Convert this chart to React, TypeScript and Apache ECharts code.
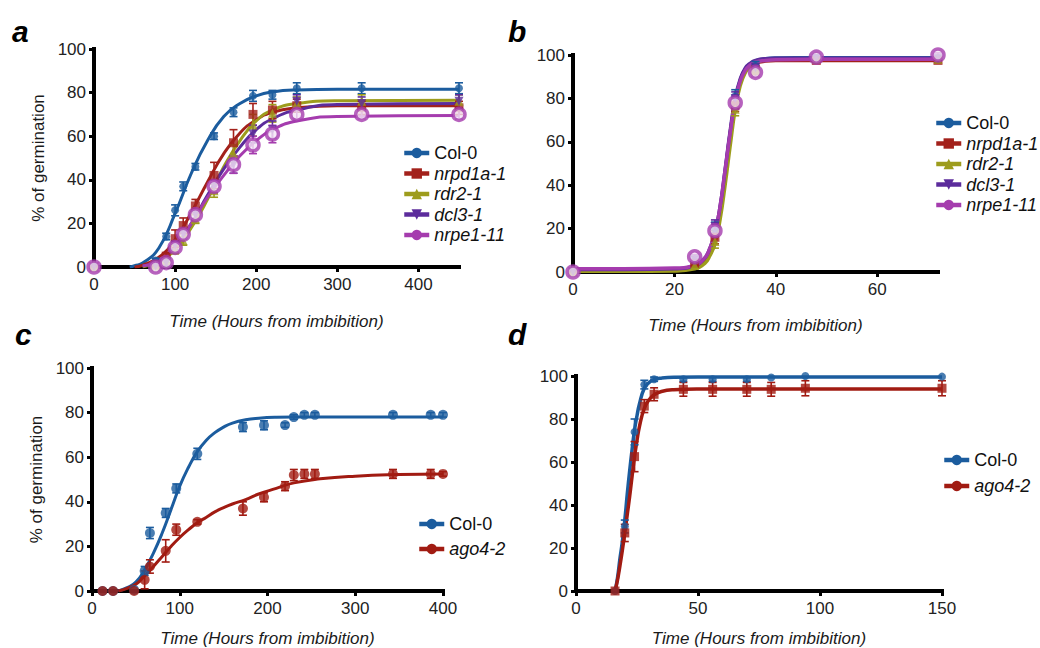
import React, { useEffect, useRef } from 'react';
import * as echarts from 'echarts';

const FONT = "'Liberation Sans', Arial, Helvetica, sans-serif";

const BLUE = '#1b5c9e';
const RED = '#a3211b';
const OLIVE = '#9d9c1c';
const PURPLE = '#5c2c9c';
const MAGENTA = '#a53cae';
const DARKRED = '#a11b12';

// ---------- Panel a: dormant seeds ----------
const aTimes = [0, 76, 89, 100, 110, 125, 148, 172, 196, 220, 250, 330, 450];
const aCol0 = [0, 3, 14, 26, 37, 46, 60, 71, 78.5, 79, 82, 82, 82];
const aCol0Err = [0, 1, 1.5, 2.5, 2, 1.5, 1.5, 2, 2.5, 2, 2.5, 2.5, 2.5];
const aNrpd1a = [0, 1, 5, 13, 19, 28, 42, 57, 70, 72, 74, 73, 73];
const aNrpd1aErr = [0, 0.5, 1.5, 4, 3.5, 3, 6, 6, 5, 4, 3, 3, 3];
const aRdr2 = [0, 0.5, 3, 8, 12, 22, 35, 52, 65, 70.5, 75, 76, 76];
const aRdr2Err = [0, 0.5, 1, 2, 2, 2, 3, 4, 5, 4, 3, 3, 3];
const aDcl3 = [0, 0.5, 2, 10, 15, 24, 37, 47, 61, 63, 76, 75, 76];
const aDcl3Err = [0, 0.5, 1, 2, 2, 2, 3, 4, 4, 4, 3, 3, 3];
const aNrpe1 = [0, 0, 2, 9, 15, 24, 37, 47, 56, 61, 70, 70, 70];
const aNrpe1Err = [0, 0, 1, 2, 2, 2, 3, 4, 4, 4, 2, 2, 2];

const aFitTimes = [44, 50, 60, 80, 100, 120, 140, 160, 180, 200, 220, 250, 300, 450];
const aFitCol0 = [0, 0.6, 1.8, 8.7, 24.6, 43, 58, 69, 75, 78.5, 80.3, 81.2, 81.5, 81.5];
const aFitNrpd1a = [null, 0, 0.8, 4.5, 12.5, 25, 39, 52, 61.5, 67.5, 71, 73, 74, 74];
const aFitRdr2 = [null, null, 0, 2.5, 8, 18, 31, 46, 58, 67, 72, 75, 76.3, 76.5];
const aFitDcl3 = [null, null, 0.5, 3, 9.5, 20, 33, 45, 55, 63, 68, 72, 74.5, 75];
const aFitNrpe1 = [null, null, 0.5, 3, 9.5, 20, 32, 42, 51, 58, 63, 67, 69, 69.5];

// ---------- Panel b: after-ripened seeds ----------
const bTimes = [0, 24, 28, 32, 36, 48, 72];
const bCol0 = [0, 5, 20, 81, 95, 98.5, 98.5];
const bNrpd1a = [0, 4, 16, 77, 93, 97.5, 97.5];
const bRdr2 = [0, 3, 14, 75, 93, 98, 98];
const bDcl3 = [0, 6, 21, 80, 94, 98.5, 98.5];
const bNrpe1 = [0, 7, 19, 78, 92, 99, 100];
const bErr = [0, 1, 3, 3, 2, 1, 1];

const bFitTimes = [0, 10, 20, 24, 26, 27, 28, 29, 30, 31, 32, 33, 34, 35, 36, 38, 40, 48, 72];
const bFitCol0 = [1, 1, 1.3, 2.5, 6, 10, 17, 29, 46, 64, 79, 88.5, 93.5, 96, 97.3, 98.3, 98.6, 98.7, 98.7];
const bFitNrpd1a = [0.8, 0.8, 1, 2.2, 5.5, 9.5, 16, 28, 45, 63, 78, 87.5, 92.5, 95, 96.3, 97.2, 97.5, 97.5, 97.5];
const bFitRdr2 = [0.3, 0.3, 0.5, 1.5, 4, 7.5, 13, 24, 40, 58, 75, 86, 92, 95, 96.8, 97.8, 98, 98, 98];
const bFitDcl3 = [1.2, 1.2, 1.5, 3, 6.5, 11, 18, 30, 47, 65, 80, 89, 94, 96.3, 97.5, 98.3, 98.5, 98.5, 98.5];
const bFitNrpe1 = [1.5, 1.5, 1.8, 3.2, 6.5, 11, 18, 30, 47, 64, 79, 88, 93, 95.5, 96.8, 97.5, 97.8, 98, 98];

// ---------- Panel c: dormant seeds, ago4-2 ----------
const cTimes = [12, 24, 48, 60, 66, 84, 96, 120, 172, 196, 220, 230, 242, 254, 343, 386, 400];
const cCol0 = [0, 0, 0.5, 9, 26, 35, 46, 61.5, 73.5, 74.3, 74.4, 78, 79, 79, 79, 79, 79];
const cCol0Err = [0, 0, 0.5, 2, 2.5, 2, 2, 2.5, 2, 2, 1, 1, 1, 1, 1, 1, 1];
const cAgo4 = [0, 0, 0, 5, 11, 18, 27.5, 31, 37, 42, 47, 52, 52.5, 52.5, 52.5, 52.5, 52.5];
const cAgo4Err = [0, 0, 0, 4, 3, 5, 2.5, 1, 3, 2, 2, 2.5, 2, 2, 2, 2, 1];

const cFitTimes = [30, 40, 50, 60, 70, 80, 90, 100, 110, 120, 130, 140, 150, 160, 175, 190, 210, 230, 260, 300, 350, 400];
const cFitCol0 = [0, 1.5, 4, 9.5, 17, 26, 36.5, 47, 55.5, 62.5, 67.5, 71, 73.5, 75.3, 76.8, 77.5, 77.9, 78, 78, 78, 78, 78];
const cFitAgo4 = [0, 1.2, 3, 6.8, 11, 15.5, 20, 24, 27.5, 30.6, 33, 35.5, 37.4, 39, 41, 43.5, 46, 48.5, 50.3, 51.5, 52.2, 52.5];

// ---------- Panel d: after-ripened seeds, ago4-2 ----------
const dTimes = [16, 20, 24, 28, 32, 44, 56, 70, 80, 94, 150];
const dCol0 = [0, 30, 74, 96, 98.5, 98.5, 98.5, 98.5, 99.3, 100, 99.7];
const dCol0Err = [0, 3, 6, 2, 1, 1, 1, 1, 0.5, 0.5, 0.5];
const dAgo4 = [0, 27, 62.5, 86, 91.5, 93.8, 93.8, 93.8, 93.8, 94.3, 94.3];
const dAgo4Err = [0, 4, 7, 3, 3, 3.2, 3.2, 3.2, 3.2, 3.5, 3.5];

const dFitTimes = [16, 17, 18, 19, 20, 21, 22, 23, 24, 25, 26, 28, 30, 32, 35, 40, 50, 150];
const dFitCol0 = [0, 6, 15, 23, 33, 45, 56, 66, 75, 81.5, 87, 94.3, 97, 98.3, 99, 99.4, 99.5, 99.5];
const dFitAgo4 = [0, 5, 11.7, 19, 27, 35.5, 44, 53.5, 62.6, 70, 76.5, 85, 89, 91.3, 92.8, 93.6, 93.9, 94];

// ---------- Axis ticks ----------
const aXTicks = [0, 100, 200, 300, 400];
const bXTicks = [0, 20, 40, 60];
const cXTicks = [0, 100, 200, 300, 400];
const dXTicks = [0, 50, 100, 150];

type Geno = {
  name: string;
  color: string;
  symbol: string;
  size: number;
  rotate?: number;
  hollow?: boolean;
  times: number[];
  values: number[];
  errors?: number[];
  fitTimes: number[];
  fit: (number | null)[];
  lineWidth: number;
};

function panelSeries(idx: number, genos: Geno[]) {
  const out: any[] = [];
  genos.forEach((g) => {
    const fitData = g.fitTimes
      .map((t, i) => [t, g.fit[i]])
      .filter((p) => p[1] !== null);
    out.push({
      type: 'line',
      name: g.name,
      xAxisIndex: idx,
      yAxisIndex: idx,
      data: fitData,
      smooth: 0.5,
      symbol: g.symbol,
      symbolRotate: g.rotate || 0,
      showSymbol: false,
      silent: true,
      lineStyle: { color: g.color, width: g.lineWidth },
      itemStyle: { color: g.color },
      z: 2,
    });
    if (g.errors) {
      const errData = g.times
        .map((t, i) => [t, g.values[i] - g.errors![i], g.values[i] + g.errors![i], g.errors![i]])
        .filter((p) => p[3] > 0.6);
      const color = g.color;
      out.push({
        type: 'custom',
        name: g.name + ' SEM',
        xAxisIndex: idx,
        yAxisIndex: idx,
        data: errData,
        encode: { x: 0, y: [1, 2] },
        silent: true,
        z: 3,
        renderItem: (_p: any, api: any) => {
          const lo = api.coord([api.value(0), api.value(1)]);
          const hi = api.coord([api.value(0), api.value(2)]);
          const w = 4;
          const st = { stroke: color, lineWidth: 1.6 };
          return {
            type: 'group',
            children: [
              { type: 'line', shape: { x1: lo[0], y1: lo[1], x2: hi[0], y2: hi[1] }, style: st },
              { type: 'line', shape: { x1: hi[0] - w, y1: hi[1], x2: hi[0] + w, y2: hi[1] }, style: st },
              { type: 'line', shape: { x1: lo[0] - w, y1: lo[1], x2: lo[0] + w, y2: lo[1] }, style: st },
            ],
          };
        },
      });
    }
    out.push({
      type: 'scatter',
      name: g.name + ' mean',
      xAxisIndex: idx,
      yAxisIndex: idx,
      data: g.times.map((t, i) => [t, g.values[i]]),
      symbol: g.symbol,
      symbolSize: g.size,
      symbolRotate: g.rotate || 0,
      silent: true,
      itemStyle: g.hollow
        ? { color: '#f4e6f6', borderColor: g.color, borderWidth: 3.5 }
        : { color: g.color },
      z: 4,
    });
  });
  return out;
}

function xAxis(idx: number, max: number, ticks: number[], nameGap: number) {
  return {
    type: 'value',
    gridIndex: idx,
    min: 0,
    max,
    name: 'Time (Hours from imbibition)',
    nameLocation: 'middle',
    nameGap,
    nameTextStyle: { fontFamily: FONT, fontSize: 17, fontStyle: 'italic', color: '#1a1a1a' },
    axisLine: { show: true, onZero: false, lineStyle: { color: '#000', width: 4, cap: 'square' } },
    axisTick: { show: true, length: 5, lineStyle: { color: '#000', width: 3 }, customValues: ticks },
    axisLabel: { fontFamily: FONT, fontSize: 17, color: '#222', margin: 9, customValues: ticks },
    splitLine: { show: false },
  };
}

function yAxis(idx: number, withName: boolean) {
  return {
    type: 'value',
    gridIndex: idx,
    min: 0,
    max: 100,
    interval: 20,
    name: withName ? '% of germination' : '',
    nameLocation: 'middle',
    nameGap: 47,
    nameTextStyle: { fontFamily: FONT, fontSize: 17, color: '#1a1a1a' },
    axisLine: { show: true, onZero: false, lineStyle: { color: '#000', width: 4, cap: 'square' } },
    axisTick: { show: true, length: 5, lineStyle: { color: '#000', width: 3 } },
    axisLabel: { fontFamily: FONT, fontSize: 17, color: '#222', margin: 8 },
    splitLine: { show: false },
  };
}

function legend(names: string[], left: number, top: number, gap: number) {
  return {
    data: names,
    orient: 'vertical',
    left,
    top,
    padding: 0,
    itemWidth: 25,
    itemHeight: 13,
    itemGap: gap,
    selectedMode: false,
    lineStyle: { width: 4.5 },
    formatter: (n: string) => (n === 'Col-0' ? `{n|${n}}` : `{i|${n}}`),
    textStyle: {
      fontFamily: FONT,
      fontSize: 18,
      color: '#111',
      lineHeight: 20,
      rich: {
        n: { fontFamily: FONT, fontSize: 18, color: '#111', lineHeight: 20 },
        i: { fontFamily: FONT, fontSize: 18, fontStyle: 'italic', color: '#111', lineHeight: 20 },
      },
    },
  };
}

function letter(text: string, x: number, y: number) {
  return {
    type: 'text',
    x,
    y,
    style: {
      text,
      fontFamily: FONT,
      fontSize: 30,
      fontWeight: 'bold',
      fontStyle: 'italic',
      fill: '#000',
      verticalAlign: 'middle',
    },
  };
}

const fiveNames = ['Col-0', 'nrpd1a-1', 'rdr2-1', 'dcl3-1', 'nrpe1-11'];
const twoNames = ['Col-0', 'ago4-2'];

export default function App() {
  const ref = useRef<HTMLDivElement>(null);

  useEffect(() => {
    if (!ref.current) return;
    const chart = echarts.init(ref.current, undefined, { renderer: 'svg' });

    const genosA: Geno[] = [
      { name: 'Col-0', color: BLUE, symbol: 'circle', size: 8, times: aTimes, values: aCol0, errors: aCol0Err, fitTimes: aFitTimes, fit: aFitCol0, lineWidth: 3 },
      { name: 'nrpd1a-1', color: RED, symbol: 'rect', size: 9, times: aTimes, values: aNrpd1a, errors: aNrpd1aErr, fitTimes: aFitTimes, fit: aFitNrpd1a, lineWidth: 3 },
      { name: 'rdr2-1', color: OLIVE, symbol: 'triangle', size: 9, times: aTimes, values: aRdr2, errors: aRdr2Err, fitTimes: aFitTimes, fit: aFitRdr2, lineWidth: 3 },
      { name: 'dcl3-1', color: PURPLE, symbol: 'triangle', rotate: 180, size: 9, times: aTimes, values: aDcl3, errors: aDcl3Err, fitTimes: aFitTimes, fit: aFitDcl3, lineWidth: 3 },
      { name: 'nrpe1-11', color: MAGENTA, symbol: 'circle', size: 12, hollow: true, times: aTimes, values: aNrpe1, errors: aNrpe1Err, fitTimes: aFitTimes, fit: aFitNrpe1, lineWidth: 3 },
    ];
    const genosB: Geno[] = [
      { name: 'Col-0', color: BLUE, symbol: 'circle', size: 8, times: bTimes, values: bCol0, errors: bErr, fitTimes: bFitTimes, fit: bFitCol0, lineWidth: 3.5 },
      { name: 'nrpd1a-1', color: RED, symbol: 'rect', size: 9, times: bTimes, values: bNrpd1a, errors: bErr, fitTimes: bFitTimes, fit: bFitNrpd1a, lineWidth: 3.5 },
      { name: 'rdr2-1', color: OLIVE, symbol: 'triangle', size: 9, times: bTimes, values: bRdr2, errors: bErr, fitTimes: bFitTimes, fit: bFitRdr2, lineWidth: 3.5 },
      { name: 'dcl3-1', color: PURPLE, symbol: 'triangle', rotate: 180, size: 9, times: bTimes, values: bDcl3, errors: bErr, fitTimes: bFitTimes, fit: bFitDcl3, lineWidth: 3.5 },
      { name: 'nrpe1-11', color: MAGENTA, symbol: 'circle', size: 12, hollow: true, times: bTimes, values: bNrpe1, errors: bErr, fitTimes: bFitTimes, fit: bFitNrpe1, lineWidth: 3.5 },
    ];
    const genosC: Geno[] = [
      { name: 'Col-0', color: BLUE, symbol: 'circle', size: 10, times: cTimes, values: cCol0, errors: cCol0Err, fitTimes: cFitTimes, fit: cFitCol0, lineWidth: 3 },
      { name: 'ago4-2', color: DARKRED, symbol: 'circle', size: 10, times: cTimes, values: cAgo4, errors: cAgo4Err, fitTimes: cFitTimes, fit: cFitAgo4, lineWidth: 3 },
    ];
    const genosD: Geno[] = [
      { name: 'Col-0', color: BLUE, symbol: 'circle', size: 8, times: dTimes, values: dCol0, errors: dCol0Err, fitTimes: dFitTimes, fit: dFitCol0, lineWidth: 3.5 },
      { name: 'ago4-2', color: DARKRED, symbol: 'rect', size: 9, times: dTimes, values: dAgo4, errors: dAgo4Err, fitTimes: dFitTimes, fit: dFitAgo4, lineWidth: 3.5 },
    ];

    chart.setOption({
      animation: false,
      backgroundColor: '#ffffff',
      textStyle: { fontFamily: FONT },
      grid: [
        { left: 94, top: 49, width: 365, height: 218 },
        { left: 573, top: 55, width: 365, height: 217 },
        { left: 92, top: 368, width: 351, height: 224 },
        { left: 576, top: 376, width: 366, height: 216 },
      ],
      xAxis: [
        xAxis(0, 450, aXTicks, 46),
        xAxis(1, 72, bXTicks, 45),
        xAxis(2, 400, cXTicks, 39),
        xAxis(3, 150, dXTicks, 39),
      ],
      yAxis: [yAxis(0, true), yAxis(1, false), yAxis(2, true), yAxis(3, false)],
      legend: [
        legend(fiveNames, 402, 143, 0.5),
        legend(fiveNames, 934, 113, 0.5),
        legend(twoNames, 417, 514, 5),
        legend(twoNames, 942, 450, 6),
      ],
      graphic: [letter('a', 12, 31), letter('b', 508, 31), letter('c', 15, 334), letter('d', 508, 334)],
      series: [
        ...panelSeries(0, genosA),
        ...panelSeries(1, genosB),
        ...panelSeries(2, genosC),
        ...panelSeries(3, genosD),
      ],
    });

    return () => chart.dispose();
  }, []);

  return (
    <div
      ref={ref}
      style={{ position: 'fixed', left: 0, top: 0, width: 1040, height: 648, background: '#fff' }}
    />
  );
}
